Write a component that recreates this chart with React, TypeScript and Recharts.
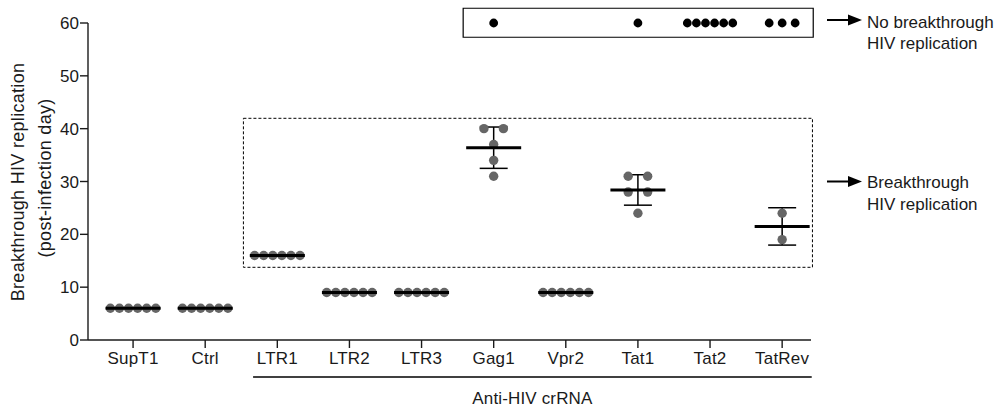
import React from 'react';
import {
  ComposedChart,
  Scatter,
  XAxis,
  YAxis,
  ErrorBar,
  ReferenceArea,
  ReferenceLine,
  Label,
} from 'recharts';

// ---------- data ----------
const categories = ['SupT1', 'Ctrl', 'LTR1', 'LTR2', 'LTR3', 'Gag1', 'Vpr2', 'Tat1', 'Tat2', 'TatRev'];

// breakthrough day of each replicate (post-infection day)
const supT1Days = [6, 6, 6, 6, 6, 6];
const ctrlDays = [6, 6, 6, 6, 6, 6];
const ltr1Days = [16, 16, 16, 16, 16, 16];
const ltr2Days = [9, 9, 9, 9, 9, 9];
const ltr3Days = [9, 9, 9, 9, 9, 9];
const gag1Days = [40, 40, 37, 34, 31];
const vpr2Days = [9, 9, 9, 9, 9, 9];
const tat1Days = [31, 31, 28, 28, 24];
const tat2Days: number[] = [];
const tatRevDays = [24, 19];

// replicates without breakthrough (plotted at the end of follow-up)
const noBreakthroughCounts = [0, 0, 0, 0, 0, 1, 0, 1, 6, 3];
const NO_BREAKTHROUGH_DAY = 60;

const yTicks = [0, 10, 20, 30, 40, 50, 60];
const xTicks = [0, 1, 2, 3, 4, 5, 6, 7, 8, 9];

const breakthroughDays = [
  supT1Days, ctrlDays, ltr1Days, ltr2Days, ltr3Days,
  gag1Days, vpr2Days, tat1Days, tat2Days, tatRevDays,
];

// ---------- layout helpers ----------
const SWARM_STEP = 0.09; // category units

function swarm(values: number[], index: number) {
  const groups = new Map<number, number>();
  values.forEach((v) => groups.set(v, (groups.get(v) ?? 0) + 1));
  const out: { x: number; y: number }[] = [];
  groups.forEach((k, v) => {
    const span = k > 1 ? SWARM_STEP * (k + 1) : 0;
    for (let i = 0; i < k; i++) {
      const off = k > 1 ? -span / 2 + (i * span) / (k - 1) : 0;
      out.push({ x: index + off, y: v });
    }
  });
  return out;
}

const greyDots = breakthroughDays.flatMap((vals, i) => swarm(vals, i));
const blackDots = noBreakthroughCounts.flatMap((n, i) =>
  swarm(Array.from({ length: n }, () => NO_BREAKTHROUGH_DAY), i)
);

const summary = breakthroughDays
  .map((vals, i) => {
    if (vals.length === 0) return null;
    const mean = vals.reduce((a, b) => a + b, 0) / vals.length;
    const sd =
      vals.length > 1
        ? Math.sqrt(vals.reduce((a, b) => a + (b - mean) * (b - mean), 0) / (vals.length - 1))
        : 0;
    return { x: i, y: mean, sd };
  })
  .filter(Boolean) as { x: number; y: number; sd: number }[];

const FONT = '"Liberation Sans", Arial, Helvetica, sans-serif';
const INK = '#1a1a1a';

const GreyDot = (p: any) => <circle cx={p.cx} cy={p.cy} r={4.7} fill="#666666" />;
const BlackDot = (p: any) => <circle cx={p.cx} cy={p.cy} r={4.4} fill="#000000" />;
const MeanLine = (p: any) => (
  <line x1={p.cx - 27.5} x2={p.cx + 27.5} y1={p.cy} y2={p.cy} stroke="#000" strokeWidth={3} />
);

const YLabel = (props: any) => {
  const vb = props.viewBox || { x: 28, y: 23, width: 60, height: 317 };
  const cy = vb.y + vb.height / 2;
  const y1 = cy + 0.5;
  const y2 = cy - 3.5;
  return (
    <g fontFamily={FONT} fill={INK}>
      <text x={24} y={y1} transform={`rotate(-90 24 ${y1})`} textAnchor="middle" fontSize={18} letterSpacing={0.3}>
        Breakthrough HIV replication
      </text>
      <text x={51} y={y2} transform={`rotate(-90 51 ${y2})`} textAnchor="middle" fontSize={18} letterSpacing={0.3}>
        (post-infection day)
      </text>
    </g>
  );
};

const Arrow = ({ x1, x2, y }: { x1: number; x2: number; y: number }) => (
  <g>
    <line x1={x1} x2={x2 - 12} y1={y} y2={y} stroke="#000" strokeWidth={2} />
    <polygon points={`${x2 - 14},${y - 5.5} ${x2},${y} ${x2 - 14},${y + 5.5}`} fill="#000" />
  </g>
);

export default function App() {
  return (
    <div style={{ position: 'absolute', left: 0, top: 0, width: 999, height: 412, background: '#fff' }}>
      <ComposedChart
        width={999}
        height={412}
        margin={{ top: 23, right: 188, bottom: 42, left: 28 }}
        style={{ fontFamily: FONT }}
      >
        <XAxis
          type="number"
          dataKey="x"
          domain={[-0.625, 9.4]}
          ticks={xTicks}
          interval={0}
          tickFormatter={(v: number) => categories[v] ?? ''}
          height={30}
          tickSize={8}
          tickMargin={4}
          stroke={INK}
          strokeWidth={1.4}
          tick={{ fontSize: 17, fill: INK, fontFamily: FONT, letterSpacing: 0.2 }}
        />
        <YAxis
          type="number"
          dataKey="y"
          domain={[0, 60]}
          ticks={yTicks}
          interval={0}
          width={60}
          tickSize={8}
          tickMargin={1}
          stroke={INK}
          strokeWidth={1.4}
          tick={{ fontSize: 17, fill: INK, fontFamily: FONT }}
        >
          <Label content={YLabel} />
        </YAxis>

        <ReferenceArea
          x1={1.53}
          x2={9.42}
          y1={13.76}
          y2={41.96}
          fill="none"
          fillOpacity={0}
          stroke="#000"
          strokeWidth={1}
          strokeDasharray="3 2"
          ifOverflow="visible"
        />
        <ReferenceArea
          x1={4.577}
          x2={9.431}
          y1={57.3}
          y2={62.79}
          fill="none"
          fillOpacity={0}
          stroke="#000"
          strokeWidth={1.2}
          ifOverflow="visible"
        />
        <ReferenceLine
          segment={[
            { x: 1.664, y: -7 },
            { x: 9.41, y: -7 },
          ]}
          stroke="#000"
          strokeWidth={1.4}
          ifOverflow="visible"
        >
          <Label
            value="Anti-HIV crRNA"
            position="bottom"
            offset={15}
            fontSize={17}
            fill={INK}
            fontFamily={FONT}
            letterSpacing={0.15}
          />
        </ReferenceLine>

        <Scatter data={greyDots} shape={GreyDot} isAnimationActive={false} />
        <Scatter data={blackDots} shape={BlackDot} isAnimationActive={false} />
        <Scatter data={summary} shape={MeanLine} isAnimationActive={false}>
          <ErrorBar dataKey="sd" direction="y" width={14} stroke="#000" strokeWidth={1.5} />
        </Scatter>
      </ComposedChart>

      <svg
        width={999}
        height={412}
        style={{ position: 'absolute', left: 0, top: 0, pointerEvents: 'none' }}
        fontFamily={FONT}
      >
        <Arrow x1={827} x2={862} y={20} />
        <text x={867} y={27.5} fontSize={17} fill={INK}>No breakthrough</text>
        <text x={867} y={49} fontSize={17} fill={INK}>HIV replication</text>
        <Arrow x1={827} x2={862} y={181.5} />
        <text x={867} y={188} fontSize={17} fill={INK}>Breakthrough</text>
        <text x={867} y={209.5} fontSize={17} fill={INK}>HIV replication</text>
      </svg>
    </div>
  );
}
